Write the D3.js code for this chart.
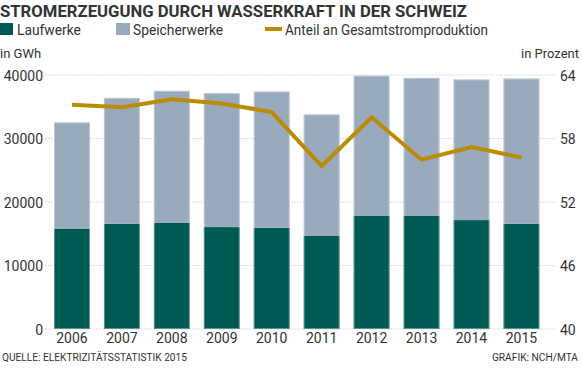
<!DOCTYPE html>
<html>
<head>
<meta charset="utf-8">
<script src="https://cdn.jsdelivr.net/npm/d3@7"></script>
<style>
  body { margin: 0; background: #fff; }
  svg text { font-family: Roboto, "Liberation Sans", sans-serif; fill: #333; }
</style>
</head>
<body>
<svg id="chart" width="582" height="368"></svg>
<script>
// data
const years = ["2006", "2007", "2008", "2009", "2010", "2011", "2012", "2013", "2014", "2015"];
const laufwerke = [15750, 16550, 16700, 16050, 15950, 14650, 17800, 17800, 17150, 16550];
const total = [32550, 36400, 37500, 37150, 37400, 33800, 39900, 39550, 39300, 39450];
const anteil = [61.2, 60.95, 61.7, 61.3, 60.5, 55.4, 60.0, 56.0, 57.2, 56.2];
const leftTicks = [0, 10000, 20000, 30000, 40000];
const rightTicks = [40, 46, 52, 58, 64];

const speicherwerke = total.map((t, i) => t - laufwerke[i]);

const colLauf = "#005a54";
const colSpeicher = "#9aaabd";
const colLine = "#bb8b00";
const condensed = "'Liberation Sans Narrow', 'DejaVu Sans Condensed', sans-serif";

const svg = d3.select("#chart");

const x = d3.scaleBand()
  .domain(years)
  .range([47, 546.4])
  .paddingInner(0.28)
  .paddingOuter(0.14);

const yLeft = d3.scaleLinear().domain([0, 40000]).range([329, 75]);
const yRight = d3.scaleLinear().domain([40, 64]).range([329, 75]);

// gridlines
svg.append("g")
  .selectAll("line")
  .data(leftTicks)
  .join("line")
  .attr("x1", 45)
  .attr("x2", 556)
  .attr("y1", d => yLeft(d))
  .attr("y2", d => yLeft(d))
  .attr("stroke", "#dcdcdc")
  .attr("stroke-width", 1)
  .attr("stroke-dasharray", "2,1");

// left axis
const axisL = svg.append("g")
  .attr("transform", "translate(43,0)")
  .call(d3.axisLeft(yLeft).tickValues(leftTicks).tickSize(0).tickPadding(0).tickFormat(d3.format("d")));
axisL.select(".domain").remove();
axisL.selectAll("text")
  .attr("font-size", 14)
  .attr("fill", "#333")
  .attr("dy", "0.36em");

// right axis
const axisR = svg.append("g")
  .attr("transform", "translate(560,0)")
  .call(d3.axisRight(yRight).tickValues(rightTicks).tickSize(0).tickPadding(0));
axisR.select(".domain").remove();
axisR.selectAll("text")
  .attr("font-size", 14)
  .attr("fill", "#333")
  .attr("dy", "0.36em");

// bars
const bars = svg.append("g");
bars.selectAll(".lauf")
  .data(years)
  .join("rect")
  .attr("class", "lauf")
  .attr("x", d => x(d))
  .attr("width", x.bandwidth())
  .attr("y", (d, i) => yLeft(laufwerke[i]))
  .attr("height", (d, i) => yLeft(0) - yLeft(laufwerke[i]))
  .attr("fill", colLauf);

bars.selectAll(".speicher")
  .data(years)
  .join("rect")
  .attr("class", "speicher")
  .attr("x", d => x(d))
  .attr("width", x.bandwidth())
  .attr("y", (d, i) => yLeft(total[i]))
  .attr("height", (d, i) => yLeft(laufwerke[i]) - yLeft(total[i]))
  .attr("fill", colSpeicher);

// thin light outline round each stacked bar
bars.selectAll(".outline")
  .data(years)
  .join("rect")
  .attr("class", "outline")
  .attr("x", d => x(d) + 0.5)
  .attr("width", x.bandwidth() - 1)
  .attr("y", (d, i) => yLeft(total[i]) + 0.5)
  .attr("height", (d, i) => yLeft(0) - yLeft(total[i]) - 1)
  .attr("fill", "none")
  .attr("stroke", "#ffffff")
  .attr("stroke-opacity", 0.35);

// share line
const line = d3.line()
  .x((d, i) => x(years[i]) + x.bandwidth() / 2)
  .y(d => yRight(d));

svg.append("path")
  .datum(anteil)
  .attr("d", line)
  .attr("fill", "none")
  .attr("stroke", colLine)
  .attr("stroke-width", 4)
  .attr("stroke-linejoin", "miter");

// x axis labels
const axisB = svg.append("g")
  .attr("transform", "translate(0,333)")
  .call(d3.axisBottom(x).tickSize(0).tickPadding(0));
axisB.select(".domain").remove();
axisB.selectAll("text")
  .attr("font-size", 14)
  .attr("fill", "#333")
  .attr("dy", "0.71em");

// title
svg.append("text")
  .attr("x", 0)
  .attr("y", 17)
  .attr("font-family", condensed)
  .attr("font-weight", "bold")
  .attr("font-size", 16.5)
  .attr("fill", "#1a1a1a")
  .attr("textLength", 467)
  .attr("lengthAdjust", "spacingAndGlyphs")
  .text("STROMERZEUGUNG DURCH WASSERKRAFT IN DER SCHWEIZ");

// legend
const legend = svg.append("g");
legend.append("rect").attr("x", 0).attr("y", 23).attr("width", 13).attr("height", 12).attr("fill", colLauf);
legend.append("text").attr("x", 17).attr("y", 34.5).attr("font-size", 13.8).text("Laufwerke");
legend.append("rect").attr("x", 116).attr("y", 23).attr("width", 14).attr("height", 12).attr("fill", colSpeicher);
legend.append("text").attr("x", 133).attr("y", 34.5).attr("font-size", 13.8).text("Speicherwerke");
legend.append("line").attr("x1", 265).attr("x2", 282).attr("y1", 29).attr("y2", 29)
  .attr("stroke", colLine).attr("stroke-width", 4);
legend.append("text").attr("x", 285).attr("y", 34.5).attr("font-size", 13.8)
  .attr("textLength", 203).attr("lengthAdjust", "spacingAndGlyphs")
  .text("Anteil an Gesamtstromproduktion");

// unit labels
svg.append("text").attr("x", 0).attr("y", 57.5).attr("font-size", 13).text("in GWh");
svg.append("text").attr("x", 579).attr("y", 57.5).attr("font-size", 13)
  .attr("text-anchor", "end").text("in Prozent");

// footer
svg.append("text").attr("x", 2).attr("y", 361)
  .attr("font-family", condensed)
  .attr("font-size", 10.2).attr("fill", "#333")
  .attr("textLength", 185).attr("lengthAdjust", "spacingAndGlyphs")
  .text("QUELLE: ELEKTRIZITÄTSSTATISTIK 2015");
svg.append("text").attr("x", 578).attr("y", 361)
  .attr("font-family", condensed)
  .attr("font-size", 10.2).attr("fill", "#333")
  .attr("text-anchor", "end")
  .text("GRAFIK: NCH/MTA");
</script>
</body>
</html>
